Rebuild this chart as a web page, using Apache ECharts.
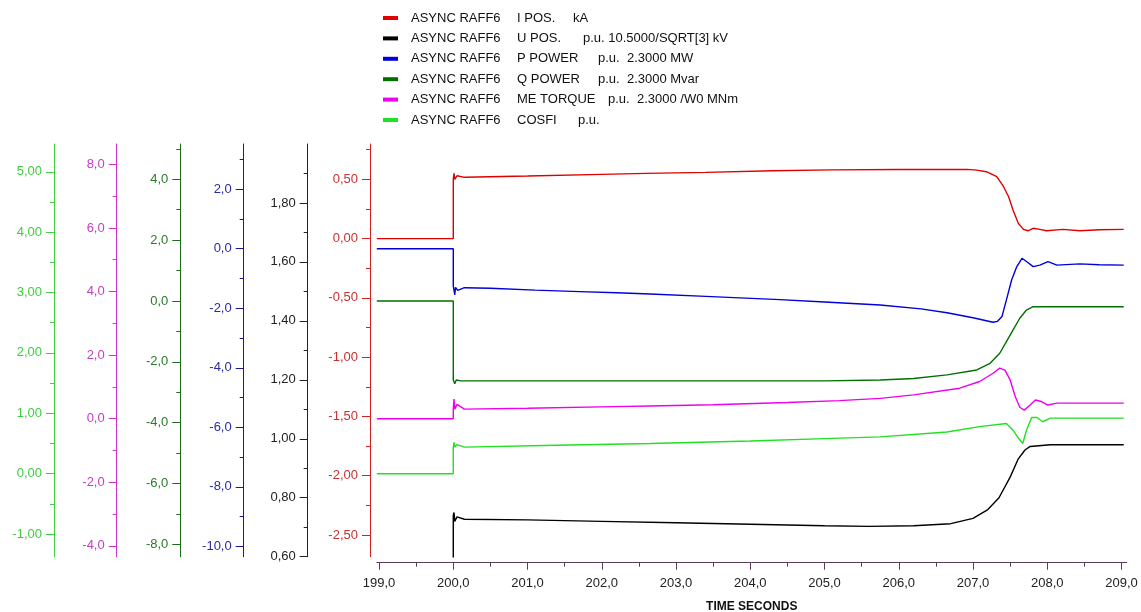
<!DOCTYPE html>
<html>
<head>
<meta charset="utf-8">
<script src="https://cdn.jsdelivr.net/npm/echarts@6/dist/echarts.min.js"></script>
<style>
html,body{margin:0;padding:0;background:#fff;}
#chart{width:1141px;height:612px;}
</style>
</head>
<body>
<div id="chart"></div>
<script>
// ---------- DATA ----------
const legendDevice = 'ASYNC RAFF6';
const seriesNames = ['I POS.', 'U POS.', 'P POWER', 'Q POWER', 'ME TORQUE', 'COSFI'];
const seriesUnits = ['kA', 'p.u. 10.5000/SQRT[3] kV', 'p.u.  2.3000 MW', 'p.u.  2.3000 Mvar', 'p.u.  2.3000 /W0 MNm', 'p.u.'];
const xAxisTitle = 'TIME SECONDS';
const timeTicks = [199, 200, 201, 202, 203, 204, 205, 206, 207, 208, 209];
const timeMinorTicks = [199.5, 200.5, 201.5, 202.5, 203.5, 204.5, 205.5, 206.5, 207.5, 208.5];

// [time s, value]
const iPos = [[198.97,0],[200,0],[200,0.50],[200.01,0.55],[200.02,0.50],[200.05,0.53],[200.15,0.517],[201,0.528],[202,0.542],[202.6,0.55],[203.4,0.559],[204.3,0.572],[205.1,0.58],[206,0.583],[206.92,0.584],[207.05,0.578],[207.18,0.564],[207.32,0.522],[207.41,0.44],[207.48,0.353],[207.54,0.24],[207.61,0.129],[207.68,0.078],[207.74,0.066],[207.81,0.087],[207.9,0.078],[207.99,0.066],[208.21,0.078],[208.44,0.066],[208.7,0.075],[209.03,0.078]];
const uPos = [[198.97,0],[200,0],[200,0.74],[200.01,0.75],[200.02,0.72],[200.05,0.735],[200.15,0.727],[201,0.725],[202,0.72],[203,0.715],[204,0.71],[205,0.705],[205.6,0.703],[206.2,0.705],[206.7,0.712],[207,0.73],[207.2,0.76],[207.35,0.8],[207.5,0.87],[207.61,0.932],[207.7,0.962],[207.77,0.974],[208.04,0.98],[209.03,0.98]];
const pPower = [[198.97,0],[200,0],[200,-1.25],[200.02,-1.55],[200.03,-1.3],[200.06,-1.4],[200.15,-1.31],[200.5,-1.33],[201.1,-1.39],[201.7,-1.44],[202.2,-1.48],[202.65,-1.52],[203.4,-1.6],[204.4,-1.71],[205,-1.79],[205.75,-1.89],[206.3,-2.02],[206.65,-2.15],[207,-2.32],[207.27,-2.47],[207.33,-2.44],[207.39,-2.28],[207.45,-1.72],[207.52,-1.05],[207.59,-0.6],[207.66,-0.32],[207.72,-0.43],[207.81,-0.6],[207.9,-0.55],[208.01,-0.43],[208.13,-0.55],[208.44,-0.51],[208.7,-0.54],[209.03,-0.55]];
const qPower = [[198.97,0],[200,0],[200,-2.6],[200.02,-2.72],[200.04,-2.6],[200.1,-2.63],[201,-2.63],[203,-2.63],[205,-2.63],[205.75,-2.6],[206.2,-2.55],[206.65,-2.43],[207.05,-2.27],[207.23,-2.05],[207.36,-1.72],[207.45,-1.34],[207.54,-0.95],[207.63,-0.57],[207.72,-0.3],[207.81,-0.19],[209.03,-0.19]];
const meTorque = [[198.97,0],[200,0],[200,0.3],[200.01,0.62],[200.02,0.3],[200.05,0.45],[200.15,0.3],[201,0.33],[202.16,0.38],[202.65,0.4],[203.5,0.44],[204.5,0.51],[205.2,0.57],[205.75,0.64],[206.2,0.75],[206.82,0.96],[207.09,1.17],[207.27,1.43],[207.36,1.59],[207.43,1.53],[207.5,1.22],[207.57,0.69],[207.63,0.36],[207.69,0.27],[207.77,0.43],[207.84,0.59],[207.92,0.54],[208.01,0.43],[208.13,0.49],[209.03,0.49]];
const cosfi = [[198.97,0],[200,0],[200,0.44],[200.01,0.52],[200.02,0.44],[200.05,0.48],[200.15,0.44],[201.39,0.47],[202.65,0.5],[204,0.54],[205,0.58],[205.75,0.61],[206.65,0.69],[207.09,0.78],[207.45,0.83],[207.54,0.72],[207.61,0.59],[207.67,0.5],[207.72,0.72],[207.79,0.93],[207.86,0.93],[207.94,0.86],[208.04,0.92],[209.03,0.92]];

// y axes: label values, minor tick values, ranges
const redLabels = [-2.5,-2,-1.5,-1,-0.5,0,0.5];
const redMinor = [-2.25,-1.75,-1.25,-0.75,-0.25,0.25,0.75];
const blackLabels = [0.6,0.8,1.0,1.2,1.4,1.6,1.8];
const blackMinor = [0.7,0.9,1.1,1.3,1.5,1.7,1.9];
const blueLabels = [-10,-8,-6,-4,-2,0,2];
const blueMinor = [-9,-7,-5,-3,-1,1,3];
const dgreenLabels = [-8,-6,-4,-2,0,2,4];
const dgreenMinor = [-7,-5,-3,-1,1,3,5];
const pinkLabels = [-4,-2,0,2,4,6,8];
const pinkMinor = [-3,-1,1,3,5,7];
const limeLabels = [-1,0,1,2,3,4,5];
const limeMinor = [-0.5,0.5,1.5,2.5,3.5,4.5];

const redRange = [-2.683, 0.798];
const blackRange = [0.6, 2.0];
const blueRange = [-10.35, 3.52];
const dgreenRange = [-8.41, 5.16];
const pinkRange = [-4.34, 8.64];
const limeRange = [-1.375, 5.46];

// ---------- STYLE ----------
const FONT = 'Liberation Sans';
const lineColors = ['#e00000', '#000000', '#0000d8', '#007000', '#ee00ee', '#22e022'];
const axisColors = ['#d02020', '#222222', '#1a1aa0', '#1a6e1a', '#d030d0', '#40d040'];
const labelColors = ['#c83030', '#222222', '#2a2aa0', '#2a7a2a', '#c040c0', '#40cc40'];
const axisOffsets = [6.8, 69.1, 133.1, 196.5, 260.1, 322.8];
const decimals = [2, 2, 1, 1, 1, 2];

const labelSets = [redLabels, blackLabels, blueLabels, dgreenLabels, pinkLabels, limeLabels];
const minorSets = [redMinor, blackMinor, blueMinor, dgreenMinor, pinkMinor, limeMinor];
const ranges = [redRange, blackRange, blueRange, dgreenRange, pinkRange, limeRange];
const seriesData = [iPos, uPos, pPower, qPower, meTorque, cosfi];

const fmt = (v, d) => v.toFixed(d).replace('.', ',');

const yAxes = [];
for (let i = 0; i < 6; i++) {
  yAxes.push({
    type: 'value', position: 'left', offset: axisOffsets[i],
    min: ranges[i][0], max: ranges[i][1],
    splitLine: { show: false },
    axisLine: { show: true, onZero: false, lineStyle: { color: axisColors[i], width: 1 } },
    axisTick: { show: true, length: 8, customValues: labelSets[i], lineStyle: { color: axisColors[i] } },
    axisLabel: { show: true, margin: 12, customValues: labelSets[i], color: labelColors[i],
      fontFamily: FONT, fontSize: 13, formatter: (v) => fmt(v, decimals[i]) }
  });
}
for (let i = 0; i < 6; i++) {
  yAxes.push({
    type: 'value', position: 'left', offset: axisOffsets[i],
    min: ranges[i][0], max: ranges[i][1],
    splitLine: { show: false },
    axisLine: { show: false, onZero: false },
    axisTick: { show: true, length: 4, customValues: minorSets[i], lineStyle: { color: axisColors[i] } },
    axisLabel: { show: false }
  });
}

const xMin = 198.97, xMax = 209.07;
const xAxes = [
  {
    type: 'value', position: 'bottom', offset: 6, min: xMin, max: xMax,
    name: xAxisTitle, nameLocation: 'middle', nameGap: 38,
    nameTextStyle: { fontFamily: FONT, fontSize: 12, fontWeight: 'bold', color: '#111' },
    splitLine: { show: false },
    axisLine: { show: true, onZero: false, lineStyle: { color: '#5a3c5a', width: 1 } },
    axisTick: { show: true, length: 7, customValues: timeTicks, lineStyle: { color: '#5a3c5a' } },
    axisLabel: { show: true, margin: 14, customValues: timeTicks, color: '#222',
      fontFamily: FONT, fontSize: 13, formatter: (v) => fmt(v, 1) }
  },
  {
    type: 'value', position: 'bottom', offset: 6, min: xMin, max: xMax,
    splitLine: { show: false },
    axisLine: { show: false, onZero: false },
    axisTick: { show: true, length: 4, customValues: timeMinorTicks, lineStyle: { color: '#5a3c5a' } },
    axisLabel: { show: false }
  }
];

const series = seriesData.map((d, i) => ({
  name: seriesNames[i], type: 'line', data: d,
  xAxisIndex: 0, yAxisIndex: i,
  symbol: 'none', clip: true,
  lineStyle: { color: lineColors[i], width: 1.4 },
  itemStyle: { color: lineColors[i] },
  emphasis: { disabled: true }
}));

const unitWidths = [56, 66, 81, 81, 91, 61];
const rich = {
  p: { width: 8 },
  a: { width: 106, fontFamily: FONT, fontSize: 13, color: '#111', lineHeight: 16 },
  u: { fontFamily: FONT, fontSize: 13, color: '#111', lineHeight: 16 }
};
seriesNames.forEach((n, i) => {
  rich['q' + i] = { width: unitWidths[i], fontFamily: FONT, fontSize: 13, color: '#111', lineHeight: 16 };
});

const chart = echarts.init(document.getElementById('chart'), null, { renderer: 'canvas' });
chart.setOption({
  animation: false,
  backgroundColor: '#ffffff',
  grid: { left: 376.8, right: 14.3, top: 144, bottom: 55.3, containLabel: false, outerBoundsMode: 'none' },
  legend: {
    orient: 'vertical', left: 383, top: 10, padding: 0,
    icon: 'rect', itemWidth: 15, itemHeight: 4, itemGap: 4.4,
    selectedMode: false,
    data: seriesNames,
    formatter: (name) => {
      const i = seriesNames.indexOf(name);
      return '{p| }{a|' + legendDevice + '}{q' + i + '|' + name + '}{u|' + seriesUnits[i] + '}';
    },
    textStyle: { rich: rich, fontFamily: FONT, fontSize: 13, color: '#111', lineHeight: 15 }
  },
  xAxis: xAxes,
  yAxis: yAxes,
  series: series
});
</script>
</body>
</html>
